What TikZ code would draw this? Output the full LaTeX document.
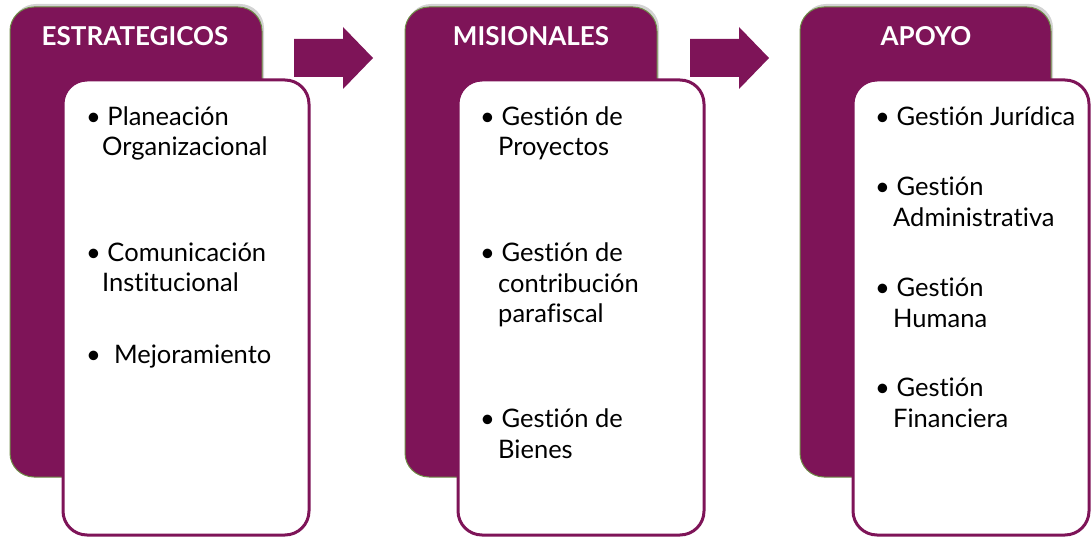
\documentclass[tikz,border=0pt]{standalone}
\usepackage{fontspec}
\setmainfont{Lato}[Ligatures=NoCommon]
\usetikzlibrary{shadows}
\definecolor{uva}{RGB}{126,20,88}
\definecolor{borde}{RGB}{110,140,70}
\tikzset{
  backbox/.style={fill=uva, draw=borde, line width=1pt, rounded corners=24pt,
    drop shadow={shadow xshift=2pt, shadow yshift=3pt, opacity=0.35}},
  frontbox/.style={fill=white, draw=uva, line width=3pt, rounded corners=24pt},
  titulo/.style={text=white, font=\bfseries\fontsize{26}{26}\selectfont},
  item/.style={anchor=base west, inner sep=0pt, font=\fontsize{25.5}{25.5}\selectfont},
  flecha/.style={fill=uva}
}
\begin{document}
\begin{tikzpicture}[x=1pt,y=-1pt]
  \useasboundingbox (0,0) rectangle (1091,537);

  % estrategicos
  \draw[backbox] (10,7) rectangle (262,477);
  \draw[frontbox] (63,80) rectangle (309,535);
  \node[titulo] (estrat) at (135,36) {ESTRATEGICOS};
  \node[item] (e1) at (86,126) {\textbullet\ Planeación};
  \node[item] (e1b) at (102,156) {Organizacional};
  \node[item] (e2) at (86,261) {\textbullet\ Comunicación};
  \node[item] (e2b) at (102,291) {Institucional};
  \node[item] (e3) at (86,363) {\textbullet\ \ Mejoramiento};

  \fill[flecha] (294,39) -- (343,39) -- (343,27) -- (373,58) -- (343,89)
    -- (343,77) -- (294,77) -- cycle;

  % misionales
  \draw[backbox] (405,7) rectangle (657,477);
  \draw[frontbox] (458,80) rectangle (704,535);
  \node[titulo] (mision) at (531,36) {MISIONALES};
  \node[item] (m1) at (480,126) {\textbullet\ Gestión de};
  \node[item] (m1b) at (498,156) {Proyectos};
  \node[item] (m2) at (480,261) {\textbullet\ Gestión de};
  \node[item] (m2b) at (498,292) {contribución};
  \node[item] (m2c) at (498,322) {parafiscal};
  \node[item] (m3) at (480,427) {\textbullet\ Gestión de};
  \node[item] (m3b) at (498,458) {Bienes};

  \fill[flecha] (690,39) -- (739,39) -- (739,27) -- (769,58) -- (739,89)
    -- (739,77) -- (690,77) -- cycle;

  % apoyo
  \draw[backbox] (800,7) rectangle (1051,477);
  \draw[frontbox] (853,80) rectangle (1089,535);
  \node[titulo] (apoyo) at (926,36) {APOYO};
  \node[item] (a1) at (875,126) {\textbullet\ Gestión Jurídica};
  \node[item] (a2) at (875,196) {\textbullet\ Gestión};
  \node[item] (a2b) at (893,226) {Administrativa};
  \node[item] (a3) at (875,296) {\textbullet\ Gestión};
  \node[item] (a3b) at (893,327) {Humana};
  \node[item] (a4) at (875,396) {\textbullet\ Gestión};
  \node[item] (a4b) at (893,427) {Financiera};
\end{tikzpicture}
\end{document}
